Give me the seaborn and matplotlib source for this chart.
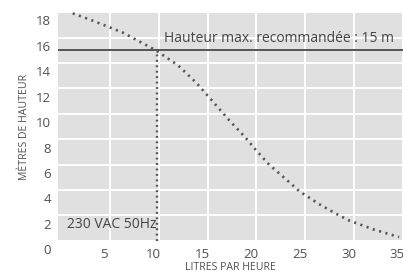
import seaborn as sns
import matplotlib.pyplot as plt
import matplotlib.transforms as mtransforms
import pandas as pd

# debit (l/h) vs hauteur (m)
litres = [1.2, 3.0, 6.3, 9.7, 12.0, 13.9, 15.5, 17.2, 18.8, 20.0, 21.3, 23.1, 24.4, 26.4, 28.0, 29.5, 32.0, 34.6]
hauteur = [17.9, 17.4, 16.4, 15.0, 13.8, 12.4, 11.0, 9.5, 8.2, 7.1, 6.0, 4.8, 3.9, 2.9, 2.2, 1.6, 0.9, 0.3]
x_ticks = [5, 10, 15, 20, 25, 30, 35]
y_ticks = [0, 2, 4, 6, 8, 10, 12, 14, 16, 18]
h_max = 15
q_max = 9.8

df = pd.DataFrame({"litres": litres, "hauteur": hauteur})

sns.set_style("darkgrid", {"axes.facecolor": "#e0e0e0", "grid.color": "white"})
plt.rcParams["font.family"] = ["Open Sans", "DejaVu Sans"]
txt = "#505050"

fig = plt.figure(figsize=(4.03, 2.75), dpi=100)
ax = fig.add_axes([0.144, 0.124, 0.856, 0.832])

sns.lineplot(data=df, x="litres", y="hauteur", ax=ax, color="#555555",
             linewidth=1.9, linestyle=(0, (0.8, 1.7)))
ax.axhline(h_max, color="#555555", linewidth=1.4)
ax.plot([q_max, q_max], [0, h_max], color="#555555", linewidth=1.7, linestyle=(0, (0.8, 1.5)))

ax.set_xlim(-0.3, 35)
ax.set_ylim(0, 18)
ax.set_xticks(x_ticks)
ax.set_yticks(y_ticks)
ax.grid(True, linewidth=1.4)
ax.tick_params(length=0, labelsize=9.5, labelcolor=txt, pad=5)
for s in ax.spines.values():
    s.set_visible(False)

for lab in ax.get_yticklabels():
    lab.set_transform(lab.get_transform() + mtransforms.ScaledTranslation(0, -6 / 72, fig.dpi_scale_trans))
for lab in ax.get_xticklabels():
    lab.set_transform(lab.get_transform() + mtransforms.ScaledTranslation(-4 / 72, 0, fig.dpi_scale_trans))

ax.set_xlabel("LITRES PAR HEURE", fontsize=7.6, color=txt, labelpad=1)
ax.set_ylabel("MÈTRES DE HAUTEUR", fontsize=7.6, color=txt, labelpad=4)

ax.text(10.5, 15.3, "Hauteur max. recommandée : 15 m", fontsize=10, color="#444444", va="bottom")
ax.text(0.6, 1.3, "230 VAC 50Hz", fontsize=10, color="#444444", va="center")

fig.savefig("out.png", dpi=100)
